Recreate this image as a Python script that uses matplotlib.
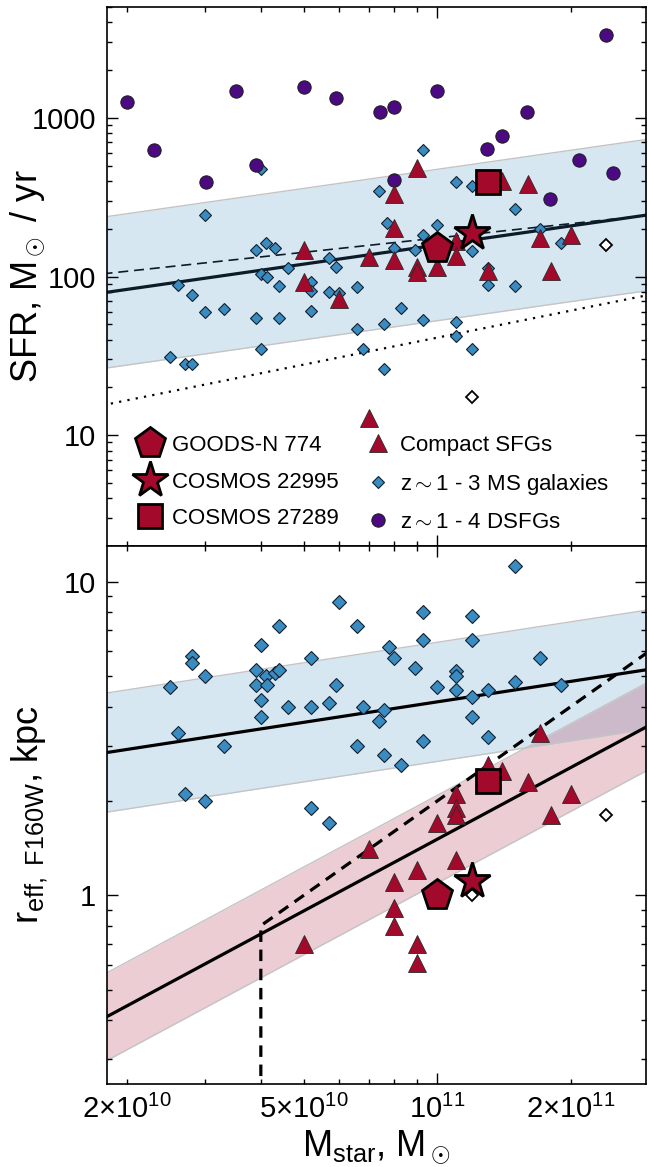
import numpy as np
import matplotlib
matplotlib.use("Agg")
import matplotlib.pyplot as plt
from matplotlib.lines import Line2D
from matplotlib.ticker import FixedLocator, FuncFormatter, NullFormatter, LogLocator

plt.rcParams['font.family'] = ['Liberation Sans', 'DejaVu Sans']
plt.rcParams['mathtext.fontset'] = 'custom'
plt.rcParams['mathtext.rm'] = 'Liberation Sans'
plt.rcParams['mathtext.it'] = 'Liberation Sans:italic'
plt.rcParams['mathtext.bf'] = 'Liberation Sans:bold'
plt.rcParams['mathtext.sf'] = 'Liberation Sans'

# stellar masses in units of 1e10 Msun
# z~1-3 main sequence galaxies, SFR panel
ms_m_top = [4.0, 7.4, 3.0, 7.7, 3.9, 4.1, 4.3, 5.7, 5.9, 4.6, 4.0, 4.13, 2.6, 4.4, 5.2,
            5.2, 6.6, 5.7, 6.0, 2.8, 3.0, 3.3, 5.2, 3.9, 4.4, 6.6, 7.6, 2.5, 2.7, 2.8,
            4.0, 6.8, 7.6, 9.3, 11.0, 12.0, 15.0, 10.0, 9.3, 8.0, 8.9, 12.0, 17.0, 19.0,
            13.0, 13.0, 15.0, 8.3, 9.3, 11.0, 11.0, 12.0]
ms_sfr = [476, 347, 244, 219, 148, 163, 151, 131, 114, 113, 103, 99, 89, 87, 93,
          81, 86, 80, 79, 76, 60, 62, 61, 55, 55, 47, 50, 31, 28, 28,
          35, 35, 26, 623, 394, 370, 268, 210, 182, 151, 148, 144, 200, 163,
          113, 88, 87, 63, 53, 52, 42, 35]
# z~1-4 DSFGs
dsfg_m = [2.0, 2.3, 3.52, 3.01, 3.9, 5.0, 5.9, 7.41, 8.0, 10.0, 24.0, 15.9, 14.0,
          12.95, 20.9, 24.9, 17.9, 8.0]
dsfg_sfr = [1259, 630, 1479, 395, 506, 1567, 1336, 1091, 1172, 1479, 3327, 1091, 771,
            638, 545, 451, 309, 407]
# compact SFGs, SFR panel
c_m_top = [5.0, 7.0, 5.0, 6.0, 9.0, 8.0, 16.0, 14.0, 8.0, 11.0, 11.0, 8.0, 9.0, 9.0,
           10.0, 17.0, 20.0, 13.0, 18.0, 7.0]
c_sfr = [147, 133, 93, 72, 485, 329, 385, 398, 203, 167, 134, 128, 115, 107,
         114, 174, 184, 108, 108, 12.9]
# open diamonds
open_m = [24.0, 12.0]
open_sfr = [157, 17.3]
open_r = [1.8, 1.0]

# size panel
ms_m_bot = [6.0, 4.4, 6.6, 4.0, 2.8, 2.8, 5.2, 3.0, 3.9, 4.1, 4.3, 4.4, 3.9, 4.13, 5.9,
            2.5, 4.0, 4.6, 5.2, 5.7, 6.8, 7.6, 7.4, 4.0, 2.6, 3.3, 6.6, 7.6, 2.7, 3.0,
            5.2, 5.7, 7.8, 15.0, 9.3, 12.0, 9.3, 12.0, 8.0, 8.9, 17.0, 11.0, 11.0, 10.0,
            11.0, 12.0, 13.0, 15.0, 19.0, 12.0, 13.0, 9.3, 8.3]
ms_r = [8.6, 7.2, 7.2, 6.3, 5.8, 5.5, 5.7, 5.0, 5.24, 5.0, 5.1, 5.24, 4.7, 4.67, 4.7,
        4.6, 4.2, 4.0, 4.0, 4.1, 4.0, 3.9, 3.6, 3.7, 3.3, 3.0, 3.0, 2.8, 2.1, 2.0,
        1.9, 1.7, 6.2, 11.2, 8.0, 7.8, 6.5, 6.5, 5.7, 5.3, 5.7, 5.2, 5.0, 4.6,
        4.5, 4.3, 4.5, 4.8, 4.7, 3.7, 3.2, 3.1, 2.6]
c_m_bot = [17.0, 13.0, 14.0, 16.0, 20.0, 18.0, 11.0, 11.0, 11.0, 10.0, 7.0, 11.0, 9.0,
           8.0, 8.0, 8.0, 9.0, 9.0, 5.0]
c_r = [3.3, 2.6, 2.5, 2.3, 2.1, 1.8, 2.1, 1.9, 1.8, 1.7, 1.4, 1.3, 1.2, 1.1, 0.91,
       0.80, 0.70, 0.61, 0.70]

# the three highlighted objects: GOODS-N 774, COSMOS 22995, COSMOS 27289
obj_m = [10.0, 12.0, 13.0]
obj_sfr = [151, 188, 394]
obj_r = [1.0, 1.11, 2.31]

# relations: (value at 1e11, slope)
ms_fit = (158, 0.40)       # main sequence, +/- 0.477 dex
ms_alt = (175, 0.30)       # dashed
ms_low = (41.2, 0.565)     # dotted
late_fit = (4.14, 0.217)   # +/- 0.19 dex
early_fit = (1.51, 0.76)   # +/- 0.14 dex
compact = 2.0              # r = 2 kpc * (M / 1e11), for M > 4e10
m_cut = 4e10

blue = '#3a8bc0'
red = '#a3092b'
purple = '#4b0a82'

xlim = (1.80e10, 2.96e11)
mgrid = np.logspace(np.log10(xlim[0]) - 0.01, np.log10(xlim[1]) + 0.01, 100)


def rel(p, m):
    return p[0] * (m / 1e11) ** p[1]


fig = plt.figure(figsize=(6.48, 11.67), dpi=100)
ax1 = fig.add_axes([0.1651, 0.5321, 0.8325, 0.4619])
ax2 = fig.add_axes([0.1651, 0.0711, 0.8325, 0.4610])

mk_ms = dict(ls='none', marker='D', mfc=blue, mec='#102030', mew=0.8)
mk_c = dict(ls='none', marker='^', ms=13, mfc=red, mec='#2a2a2a', mew=0.6)
mk_d = dict(ls='none', marker='o', ms=9.6, mfc=purple, mec='#1a1a1a', mew=0.7)
mk_open = dict(ls='none', marker='D', mfc='white', mec='k', mew=1.3)

# ---- top: SFR
y0 = rel(ms_fit, mgrid)
ax1.fill_between(mgrid, y0 / 3.0, y0 * 3.0, color=blue, alpha=0.2, lw=0, zorder=1)
ax1.plot(mgrid, y0 / 3.0, color='#c4c4c4', lw=1, zorder=1.5)
ax1.plot(mgrid, y0 * 3.0, color='#c4c4c4', lw=1, zorder=1.5)
ax1.plot(mgrid, y0, color='#0c1b28', lw=2.3, zorder=2)
ax1.plot(mgrid, rel(ms_alt, mgrid), color='#0c1b28', lw=1.2, dashes=(6, 3.5), zorder=2)
ax1.plot(mgrid, rel(ms_low, mgrid), color='k', lw=1.6, dashes=(1, 2.8), zorder=2)

ax1.plot(np.array(ms_m_top) * 1e10, ms_sfr, ms=6.6, zorder=3, **mk_ms)
ax1.plot(np.array(open_m) * 1e10, open_sfr, ms=6.6, zorder=3, **mk_open)
ax1.plot(np.array(dsfg_m) * 1e10, dsfg_sfr, zorder=4, **mk_d)
ax1.plot(np.array(c_m_top) * 1e10, c_sfr, zorder=5, **mk_c)

m_obj = np.array(obj_m) * 1e10
ax1.plot(m_obj[0], obj_sfr[0], ls='none', marker='p', ms=23, mfc=red, mec='k', mew=2, zorder=6)
ax1.plot(m_obj[1], obj_sfr[1], ls='none', marker='*', ms=27, mfc=red, mec='k', mew=2, zorder=6)
ax1.plot(m_obj[2], obj_sfr[2], ls='none', marker='s', ms=17.5, mfc=red, mec='k', mew=2, zorder=6)

ax1.set_yscale('log')
ax1.set_ylim(2, 5000)

# ---- bottom: size
r_late = rel(late_fit, mgrid)
ax2.fill_between(mgrid, r_late / 10 ** 0.19, r_late * 10 ** 0.19, color=blue, alpha=0.2, lw=0, zorder=1)
ax2.plot(mgrid, r_late / 10 ** 0.19, color='#c4c4c4', lw=1, zorder=1.5)
ax2.plot(mgrid, r_late * 10 ** 0.19, color='#c4c4c4', lw=1, zorder=1.5)
r_early = rel(early_fit, mgrid)
ax2.fill_between(mgrid, r_early / 10 ** 0.14, r_early * 10 ** 0.14, color=red, alpha=0.2, lw=0, zorder=1)
ax2.plot(mgrid, r_early / 10 ** 0.14, color='#c4c4c4', lw=1, zorder=1.5)
ax2.plot(mgrid, r_early * 10 ** 0.14, color='#c4c4c4', lw=1, zorder=1.5)
ax2.plot(mgrid, r_late, color='k', lw=2.3, zorder=2)
ax2.plot(mgrid, r_early, color='k', lw=2.3, zorder=2)

mc = mgrid[mgrid >= m_cut]
cut_x = np.concatenate([[m_cut, m_cut], mc])
cut_y = np.concatenate([[0.2, compact * m_cut / 1e11], compact * mc / 1e11])
ax2.plot(cut_x, cut_y, color='k', lw=2.3, dashes=(3.6, 2.4), zorder=2)

ax2.plot(np.array(ms_m_bot) * 1e10, ms_r, ms=7.6, zorder=3, **mk_ms)
ax2.plot(np.array(open_m) * 1e10, open_r, ms=6.6, zorder=3, **mk_open)
ax2.plot(np.array(c_m_bot) * 1e10, c_r, zorder=5, **mk_c)
ax2.plot(m_obj[0], obj_r[0], ls='none', marker='p', ms=23, mfc=red, mec='k', mew=2, zorder=6)
ax2.plot(m_obj[1], obj_r[1], ls='none', marker='*', ms=27, mfc=red, mec='k', mew=2, zorder=6)
ax2.plot(m_obj[2], obj_r[2], ls='none', marker='s', ms=17.5, mfc=red, mec='k', mew=2, zorder=6)

ax2.set_yscale('log')
ax2.set_ylim(0.25, 13)

xlabels = {2e10: r'$2{\times}10^{10}$', 5e10: r'$5{\times}10^{10}$',
           1e11: r'$10^{11}$', 2e11: r'$2{\times}10^{11}$'}


def xfmt(v, pos):
    for k, s in xlabels.items():
        if abs(v / k - 1) < 1e-3:
            return s
    return ''


for ax in (ax1, ax2):
    ax.set_xscale('log')
    ax.set_xlim(*xlim)
    ax.xaxis.set_major_locator(FixedLocator([1e11]))
    ax.xaxis.set_minor_locator(FixedLocator([2e10, 3e10, 4e10, 5e10, 6e10, 7e10, 8e10, 9e10, 2e11]))
    ax.xaxis.set_major_formatter(FuncFormatter(xfmt))
    ax.xaxis.set_minor_formatter(FuncFormatter(xfmt))
    ax.yaxis.set_major_locator(LogLocator(base=10))
    ax.yaxis.set_minor_locator(LogLocator(base=10, subs=np.arange(2, 10)))
    ax.yaxis.set_major_formatter(FuncFormatter(lambda v, p: '%g' % v))
    ax.yaxis.set_minor_formatter(NullFormatter())
    ax.tick_params(which='both', direction='in', top=True, right=True, labelsize=21, width=1.0, pad=8)
    ax.tick_params(which='major', length=8)
    ax.tick_params(which='minor', length=3.5)
    for s in ax.spines.values():
        s.set_linewidth(1.2)

ax1.tick_params(which='both', labelbottom=False)

ax1.set_ylabel(r'SFR, M$_\odot$ / yr', fontsize=26)
ax1.yaxis.set_label_coords(-0.112, 0.5)
ax2.set_ylabel(r'r$_{\rm eff,\ F160W}$, kpc', fontsize=26)
ax2.yaxis.set_label_coords(-0.105, 0.5)
ax2.set_xlabel(r'M$_{\rm star}$, M$_\odot$', fontsize=26)
ax2.xaxis.set_label_coords(0.5, -0.083)

# legend
h_pent = Line2D([], [], ls='none', marker='p', ms=23, mfc=red, mec='k', mew=2)
h_star = Line2D([], [], ls='none', marker='*', ms=27, mfc=red, mec='k', mew=2)
h_sq = Line2D([], [], ls='none', marker='s', ms=17.5, mfc=red, mec='k', mew=2)
h_c = Line2D([], [], **mk_c)
h_ms = Line2D([], [], ms=6.6, **mk_ms)
h_d = Line2D([], [], **mk_d)

leg_kw = dict(loc='upper left', frameon=False, fontsize=16, handlelength=1.0,
              handletextpad=0.5, labelspacing=0.70, borderpad=0, borderaxespad=0)
leg1 = ax1.legend([h_pent, h_star, h_sq], ['GOODS-N 774', 'COSMOS 22995', 'COSMOS 27289'],
                  bbox_to_anchor=(0.059, 0.206), **leg_kw)
ax1.add_artist(leg1)
ax1.legend([h_c, h_ms, h_d], ['Compact SFGs', r'z$\sim$1 - 3 MS galaxies', r'z$\sim$1 - 4 DSFGs'],
           bbox_to_anchor=(0.481, 0.206), **leg_kw)

fig.savefig('out.png', dpi=100)
